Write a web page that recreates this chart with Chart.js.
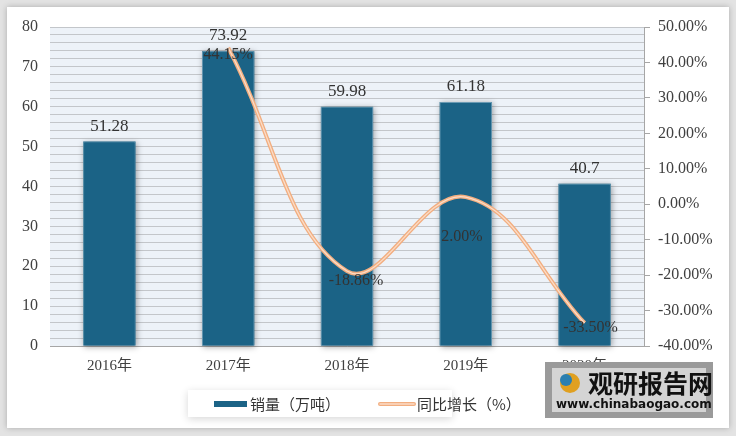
<!DOCTYPE html>
<html><head><meta charset="utf-8">
<script src="https://cdn.jsdelivr.net/npm/chart.js@4"></script>
<style>html,body{margin:0;padding:0;background:#e3e3e3;}canvas{display:block;}</style>
</head><body>
<canvas id="c" width="736" height="436"></canvas>
<script>
const categories = ['2016年','2017年','2018年','2019年','2020年'];
const salesValues = [51.28, 73.92, 59.98, 61.18, 40.7];
const growthValues = [null, 44.15, -18.86, 2.00, -33.50];
const salesLabel = '销量（万吨）';
const growthLabel = '同比增长（%）';

const NUM_FONT = '"Liberation Serif", "Noto Sans CJK SC", serif';
const TXT_FONT = '"Liberation Serif", "Noto Sans CJK SC", sans-serif';
const BAR_COLOR = '#1b6386';
const LINE_OUT = '#f2ae80';
const LINE_IN = '#fbdcc6';

const bgPlugin = {
  id: 'bg',
  beforeDraw(chart) {
    const ctx = chart.ctx;
    ctx.save();
    ctx.fillStyle = '#e3e3e3';
    ctx.fillRect(0, 0, 736, 436);
    ctx.shadowColor = 'rgba(0,0,0,0.25)';
    ctx.shadowBlur = 6;
    ctx.fillStyle = '#ffffff';
    ctx.fillRect(7, 7, 722, 421);
    ctx.restore();
    const a = chart.chartArea;
    ctx.save();
    ctx.fillStyle = '#edf2f8';
    ctx.fillRect(a.left, a.top, a.right - a.left, a.bottom - a.top);
    ctx.restore();
  },
  beforeDatasetsDraw(chart) {
    const ctx = chart.ctx;
    chart.data.datasets.forEach((ds, i) => {
      if (ds.type !== 'bar') return;
      const meta = chart.getDatasetMeta(i);
      meta.data.forEach(el => {
        ctx.save();
        ctx.shadowColor = 'rgba(0,0,0,0.35)';
        ctx.shadowBlur = 6;
        ctx.shadowOffsetX = 1;
        ctx.shadowOffsetY = 1;
        ctx.fillStyle = BAR_COLOR;
        ctx.fillRect(el.x - el.width / 2, el.y, el.width, el.base - el.y);
        ctx.restore();
      });
    });
  },
  afterDatasetsDraw(chart) {
    const ctx = chart.ctx;
    ctx.save();
    ctx.fillStyle = '#333333';
    ctx.textAlign = 'center';
    ctx.textBaseline = 'alphabetic';
    ctx.font = '17px ' + NUM_FONT;
    const barMeta = chart.getDatasetMeta(0);
    barMeta.data.forEach((el, i) => {
      ctx.fillText(String(salesValues[i]), el.x, el.y - 11);
    });
    const offs = [null, [0, 7], [9, 10], [-4, 40], [6, 5]];
    ctx.textBaseline = 'middle';
    ctx.font = '16px ' + NUM_FONT;
    const lineMeta = chart.getDatasetMeta(1);
    lineMeta.data.forEach((el, i) => {
      if (growthValues[i] === null) return;
      const o = offs[i];
      ctx.fillText(growthValues[i].toFixed(2) + '%', el.x + o[0], el.y + o[1]);
    });
    ctx.restore();
  },
  afterDraw(chart) {
    const ctx = chart.ctx;
    // legend
    ctx.save();
    ctx.shadowColor = 'rgba(0,0,0,0.16)';
    ctx.shadowBlur = 8;
    ctx.shadowOffsetY = 2;
    ctx.fillStyle = '#ffffff';
    ctx.fillRect(188, 390, 264, 27);
    ctx.restore();
    ctx.save();
    ctx.fillStyle = BAR_COLOR;
    ctx.fillRect(214, 401, 33, 6);
    ctx.font = '15px "Noto Sans CJK SC", sans-serif';
    ctx.fillStyle = '#333333';
    ctx.textBaseline = 'middle';
    ctx.fillText(salesLabel, 250, 404);
    ctx.lineCap = 'round';
    ctx.strokeStyle = LINE_OUT;
    ctx.lineWidth = 4;
    ctx.beginPath(); ctx.moveTo(380, 404); ctx.lineTo(414, 404); ctx.stroke();
    ctx.strokeStyle = LINE_IN;
    ctx.lineWidth = 1.5;
    ctx.beginPath(); ctx.moveTo(380, 404); ctx.lineTo(414, 404); ctx.stroke();
    ctx.fillText(growthLabel, 417, 404);
    ctx.restore();
    // watermark
    ctx.save();
    ctx.fillStyle = '#9a9a9a';
    ctx.fillRect(545, 362, 168, 56);
    ctx.fillStyle = '#d4d4d4';
    ctx.fillRect(552, 368, 154, 44);
    ctx.fillStyle = '#e0a020';
    ctx.beginPath(); ctx.arc(570, 383, 10, 0, Math.PI * 2); ctx.fill();
    ctx.fillStyle = '#2a7fb0';
    ctx.beginPath(); ctx.arc(566, 380, 6, 0, Math.PI * 2); ctx.fill();
    ctx.fillStyle = '#111111';
    ctx.font = 'bold 25px "Noto Sans CJK SC", sans-serif';
    ctx.textBaseline = 'middle';
    ctx.fillText('观研报告网', 588, 383);
    ctx.font = 'bold 12px "DejaVu Sans", sans-serif';
    ctx.fillText('www.chinabaogao.com', 556, 405);
    ctx.restore();
  }
};

new Chart(document.getElementById('c'), {
  data: {
    labels: categories,
    datasets: [
      {
        type: 'bar', label: salesLabel, data: salesValues, yAxisID: 'y',
        backgroundColor: BAR_COLOR, borderColor: '#6a9ab3', borderWidth: 1,
        categoryPercentage: 1, barPercentage: 0.44, order: 2
      },
      {
        type: 'line', label: growthLabel, data: growthValues, yAxisID: 'y1',
        borderColor: LINE_OUT, borderWidth: 4, tension: 0.4, pointRadius: 0,
        fill: false, spanGaps: false, order: 1
      },
      {
        type: 'line', label: '', data: growthValues, yAxisID: 'y1',
        borderColor: LINE_IN, borderWidth: 1.3, tension: 0.4, pointRadius: 0,
        fill: false, order: 0
      }
    ]
  },
  options: {
    responsive: false,
    animation: false,
    layout: { padding: { left: 10, right: 12, top: 27, bottom: 50 } },
    plugins: { legend: { display: false }, tooltip: { enabled: false } },
    scales: {
      x: {
        grid: { display: false, drawTicks: false },
        border: { display: true, color: '#a6a6a6' },
        ticks: { color: '#404040', font: { size: 15, family: TXT_FONT }, padding: 11 },
        afterFit(s) { s.height = 40; }
      },
      y: {
        position: 'left', min: 0, max: 80,
        grid: { color: '#c3c6ca', lineWidth: 1, drawTicks: false },
        border: { display: false },
        ticks: {
          stepSize: 2, autoSkip: false, color: '#404040', padding: 12,
          font: { size: 16, family: NUM_FONT },
          callback: v => (v % 10 === 0 ? String(v) : '')
        },
        afterFit(s) { s.width = 40; }
      },
      y1: {
        position: 'right', min: -40, max: 50,
        grid: { drawOnChartArea: false, drawTicks: true, tickLength: 6, color: '#a6a6a6' },
        border: { display: true, color: '#a6a6a6' },
        ticks: {
          stepSize: 10, color: '#404040', padding: 8,
          font: { size: 16, family: NUM_FONT },
          callback: v => v.toFixed(2) + '%'
        },
        afterFit(s) { s.width = 80; }
      }
    }
  },
  plugins: [bgPlugin]
});
</script>
</body></html>
